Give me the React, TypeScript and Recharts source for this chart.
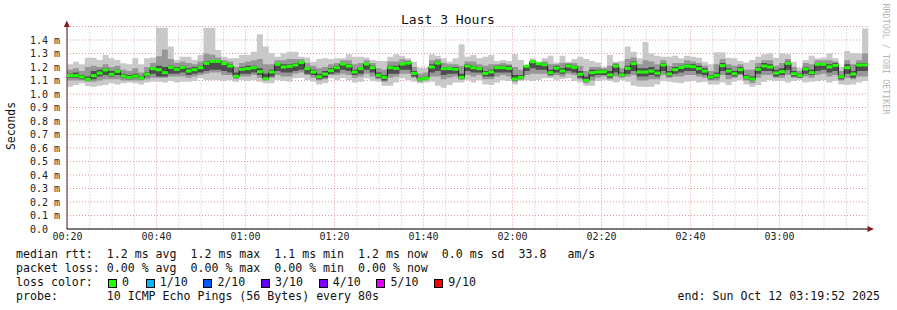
import { ComposedChart, Area, Line, XAxis, YAxis, CartesianGrid } from 'recharts';

// sampling: 10 pings every 80 s, window 00:19:52 .. 03:19:52 (minutes after midnight)
const START_MIN = 19 + 52 / 60;
const STEP_MIN = 80 / 60;
const END_MIN = START_MIN + 180;

const xTicks = [20, 40, 60, 80, 100, 120, 140, 160, 180];
const minorTicks = [25, 30, 35, 45, 50, 55, 65, 70, 75, 85, 90, 95, 105, 110, 115, 125, 130, 135, 145, 150, 155, 165, 170, 175, 185, 190, 195];
const yTicks = [0, 0.1, 0.2, 0.3, 0.4, 0.5, 0.6, 0.7, 0.8, 0.9, 1.0, 1.1, 1.2, 1.3, 1.4];

// values in ms
const medianRtt = [
  1.136, 1.136, 1.126, 1.109, 1.136, 1.155, 1.178, 1.146, 1.168, 1.133,
  1.123, 1.133, 1.118, 1.146, 1.188, 1.180, 1.158, 1.197, 1.183, 1.197,
  1.170, 1.180, 1.195, 1.227, 1.242, 1.242, 1.225, 1.207, 1.131, 1.183,
  1.188, 1.195, 1.165, 1.113, 1.163, 1.220, 1.200, 1.205, 1.215, 1.234,
  1.188, 1.163, 1.128, 1.148, 1.173, 1.195, 1.222, 1.207, 1.163, 1.188,
  1.222, 1.195, 1.138, 1.123, 1.195, 1.190, 1.222, 1.229, 1.153, 1.109,
  1.118, 1.200, 1.229, 1.188, 1.188, 1.183, 1.123, 1.207, 1.195, 1.188,
  1.153, 1.163, 1.195, 1.195, 1.190, 1.111, 1.123, 1.205, 1.239, 1.225,
  1.217, 1.158, 1.192, 1.170, 1.207, 1.197, 1.146, 1.101, 1.158, 1.163,
  1.165, 1.141, 1.207, 1.141, 1.190, 1.225, 1.163, 1.163, 1.170, 1.155,
  1.215, 1.148, 1.180, 1.197, 1.207, 1.202, 1.188, 1.170, 1.126, 1.138,
  1.210, 1.170, 1.150, 1.180, 1.123, 1.111, 1.183, 1.207, 1.200, 1.155,
  1.165, 1.227, 1.150, 1.136, 1.185, 1.158, 1.220, 1.220, 1.200, 1.212,
  1.128, 1.195, 1.148, 1.215, 1.215,
];

const maxRtt = [
  1.220, 1.239, 1.220, 1.269, 1.269, 1.252, 1.289, 1.264, 1.252, 1.227,
  1.220, 1.264, 1.220, 1.264, 1.271, 1.491, 1.491, 1.351, 1.252, 1.276,
  1.276, 1.252, 1.289, 1.491, 1.491, 1.326, 1.276, 1.264, 1.264, 1.289,
  1.289, 1.313, 1.442, 1.351, 1.301, 1.276, 1.301, 1.313, 1.313, 1.276,
  1.271, 1.239, 1.259, 1.264, 1.259, 1.264, 1.264, 1.294, 1.276, 1.276,
  1.271, 1.252, 1.244, 1.244, 1.276, 1.294, 1.284, 1.264, 1.239, 1.195,
  1.195, 1.294, 1.284, 1.264, 1.239, 1.264, 1.368, 1.276, 1.289, 1.264,
  1.276, 1.289, 1.244, 1.252, 1.244, 1.294, 1.252, 1.215, 1.264, 1.239,
  1.264, 1.284, 1.234, 1.284, 1.239, 1.259, 1.276, 1.259, 1.244, 1.234,
  1.202, 1.289, 1.239, 1.244, 1.351, 1.313, 1.264, 1.385, 1.300, 1.284,
  1.276, 1.276, 1.284, 1.264, 1.284, 1.276, 1.269, 1.239, 1.220, 1.309,
  1.309, 1.269, 1.264, 1.244, 1.234, 1.252, 1.276, 1.294, 1.301, 1.269,
  1.301, 1.294, 1.239, 1.195, 1.252, 1.284, 1.264, 1.271, 1.301, 1.264,
  1.202, 1.318, 1.301, 1.301, 1.486,
];

const minRtt = [
  1.054, 1.067, 1.079, 1.059, 1.054, 1.062, 1.067, 1.079, 1.071, 1.079,
  1.086, 1.079, 1.071, 1.086, 1.091, 1.091, 1.086, 1.096, 1.086, 1.091,
  1.091, 1.096, 1.116, 1.104, 1.104, 1.104, 1.096, 1.104, 1.091, 1.104,
  1.096, 1.104, 1.091, 1.079, 1.079, 1.104, 1.096, 1.091, 1.116, 1.121,
  1.104, 1.091, 1.071, 1.079, 1.116, 1.104, 1.116, 1.104, 1.086, 1.091,
  1.116, 1.096, 1.091, 1.062, 1.062, 1.086, 1.116, 1.104, 1.091, 1.079,
  1.086, 1.091, 1.062, 1.047, 1.067, 1.086, 1.086, 1.104, 1.086, 1.104,
  1.071, 1.067, 1.086, 1.104, 1.096, 1.071, 1.096, 1.104, 1.096, 1.104,
  1.116, 1.116, 1.104, 1.111, 1.116, 1.096, 1.086, 1.062, 1.062, 1.096,
  1.104, 1.096, 1.086, 1.104, 1.091, 1.062, 1.054, 1.054, 1.054, 1.071,
  1.096, 1.091, 1.086, 1.079, 1.091, 1.096, 1.086, 1.091, 1.071, 1.071,
  1.086, 1.067, 1.091, 1.104, 1.071, 1.054, 1.067, 1.091, 1.104, 1.096,
  1.096, 1.086, 1.096, 1.104, 1.086, 1.091, 1.096, 1.104, 1.086, 1.096,
  1.071, 1.067, 1.071, 1.086, 1.096,
];

const midHi = [
  1.18, 1.19, 1.17, 1.20, 1.21, 1.20, 1.22, 1.20, 1.21, 1.18,
  1.17, 1.19, 1.16, 1.20, 1.23, 1.28, 1.33, 1.26, 1.23, 1.24,
  1.23, 1.22, 1.24, 1.30, 1.29, 1.27, 1.25, 1.24, 1.20, 1.23,
  1.24, 1.25, 1.26, 1.22, 1.22, 1.25, 1.25, 1.26, 1.26, 1.26,
  1.23, 1.21, 1.19, 1.20, 1.22, 1.23, 1.25, 1.25, 1.22, 1.23,
  1.25, 1.23, 1.19, 1.18, 1.24, 1.24, 1.26, 1.25, 1.20, 1.15,
  1.16, 1.25, 1.26, 1.23, 1.22, 1.22, 1.21, 1.24, 1.24, 1.22,
  1.21, 1.22, 1.22, 1.23, 1.22, 1.20, 1.18, 1.21, 1.25, 1.23,
  1.24, 1.22, 1.22, 1.23, 1.23, 1.23, 1.21, 1.17, 1.20, 1.20,
  1.19, 1.21, 1.23, 1.19, 1.26, 1.27, 1.22, 1.25, 1.24, 1.22,
  1.25, 1.21, 1.23, 1.23, 1.25, 1.24, 1.23, 1.21, 1.17, 1.22,
  1.26, 1.22, 1.21, 1.22, 1.18, 1.18, 1.23, 1.25, 1.25, 1.21,
  1.23, 1.26, 1.20, 1.17, 1.23, 1.22, 1.25, 1.25, 1.25, 1.24,
  1.17, 1.25, 1.22, 1.25, 1.30,
];

const midLo = [
  1.10, 1.10, 1.10, 1.09, 1.09, 1.10, 1.11, 1.11, 1.11, 1.10,
  1.10, 1.10, 1.10, 1.11, 1.12, 1.12, 1.12, 1.13, 1.13, 1.13,
  1.12, 1.13, 1.14, 1.15, 1.16, 1.16, 1.14, 1.14, 1.11, 1.13,
  1.13, 1.14, 1.12, 1.10, 1.12, 1.14, 1.13, 1.13, 1.15, 1.16,
  1.14, 1.12, 1.10, 1.11, 1.14, 1.14, 1.15, 1.14, 1.12, 1.13,
  1.15, 1.13, 1.11, 1.09, 1.12, 1.13, 1.15, 1.15, 1.12, 1.09,
  1.10, 1.13, 1.13, 1.11, 1.12, 1.13, 1.11, 1.14, 1.13, 1.14,
  1.11, 1.11, 1.13, 1.14, 1.13, 1.09, 1.11, 1.14, 1.15, 1.15,
  1.15, 1.13, 1.14, 1.13, 1.15, 1.14, 1.11, 1.08, 1.10, 1.12,
  1.13, 1.11, 1.13, 1.12, 1.13, 1.14, 1.10, 1.10, 1.11, 1.11,
  1.14, 1.12, 1.13, 1.13, 1.14, 1.14, 1.13, 1.12, 1.10, 1.10,
  1.14, 1.11, 1.12, 1.14, 1.10, 1.08, 1.12, 1.14, 1.14, 1.12,
  1.12, 1.14, 1.12, 1.12, 1.13, 1.12, 1.14, 1.15, 1.13, 1.14,
  1.10, 1.12, 1.11, 1.13, 1.13,
];

const innerHi = [
  1.15, 1.16, 1.14, 1.13, 1.17, 1.18, 1.19, 1.17, 1.18, 1.15,
  1.14, 1.15, 1.13, 1.16, 1.20, 1.21, 1.20, 1.21, 1.20, 1.21,
  1.19, 1.20, 1.21, 1.24, 1.25, 1.25, 1.23, 1.22, 1.16, 1.20,
  1.21, 1.21, 1.19, 1.15, 1.18, 1.23, 1.22, 1.22, 1.23, 1.24,
  1.20, 1.18, 1.15, 1.17, 1.19, 1.21, 1.23, 1.22, 1.18, 1.20,
  1.23, 1.21, 1.16, 1.14, 1.21, 1.21, 1.23, 1.24, 1.17, 1.12,
  1.13, 1.22, 1.24, 1.20, 1.20, 1.20, 1.15, 1.22, 1.21, 1.20,
  1.17, 1.18, 1.21, 1.21, 1.21, 1.14, 1.14, 1.21, 1.24, 1.23,
  1.23, 1.18, 1.21, 1.19, 1.22, 1.21, 1.17, 1.13, 1.18, 1.18,
  1.18, 1.17, 1.22, 1.16, 1.21, 1.24, 1.19, 1.19, 1.20, 1.18,
  1.23, 1.17, 1.20, 1.21, 1.22, 1.22, 1.21, 1.19, 1.14, 1.16,
  1.23, 1.19, 1.17, 1.20, 1.14, 1.13, 1.20, 1.23, 1.22, 1.18,
  1.19, 1.24, 1.17, 1.15, 1.20, 1.18, 1.23, 1.23, 1.22, 1.23,
  1.14, 1.22, 1.17, 1.23, 1.23,
];

const innerLo = [
  1.12, 1.12, 1.11, 1.10, 1.11, 1.13, 1.14, 1.13, 1.14, 1.12,
  1.11, 1.12, 1.11, 1.13, 1.15, 1.13, 1.13, 1.15, 1.15, 1.16,
  1.14, 1.15, 1.16, 1.17, 1.18, 1.18, 1.17, 1.16, 1.12, 1.15,
  1.15, 1.16, 1.14, 1.11, 1.13, 1.17, 1.16, 1.16, 1.17, 1.18,
  1.15, 1.14, 1.11, 1.12, 1.15, 1.16, 1.18, 1.17, 1.14, 1.15,
  1.18, 1.16, 1.12, 1.10, 1.15, 1.15, 1.18, 1.18, 1.13, 1.10,
  1.11, 1.16, 1.17, 1.14, 1.15, 1.15, 1.11, 1.17, 1.16, 1.16,
  1.13, 1.13, 1.16, 1.16, 1.16, 1.10, 1.11, 1.17, 1.19, 1.18,
  1.18, 1.14, 1.16, 1.15, 1.17, 1.16, 1.12, 1.09, 1.13, 1.14,
  1.14, 1.12, 1.16, 1.13, 1.15, 1.17, 1.13, 1.13, 1.14, 1.13,
  1.17, 1.13, 1.15, 1.16, 1.17, 1.17, 1.15, 1.14, 1.11, 1.12,
  1.17, 1.14, 1.13, 1.15, 1.11, 1.10, 1.15, 1.17, 1.17, 1.13,
  1.14, 1.18, 1.13, 1.12, 1.15, 1.14, 1.17, 1.18, 1.16, 1.17,
  1.11, 1.15, 1.12, 1.17, 1.17,
];

const lossColors = [
  { label: '0', color: '#20ff00' },
  { label: '1/10', color: '#00b8ff' },
  { label: '2/10', color: '#0059ff' },
  { label: '3/10', color: '#5e00ff' },
  { label: '4/10', color: '#7e00ff' },
  { label: '5/10', color: '#dd00ff' },
  { label: '9/10', color: '#ff0000' },
];

const W = 897;
const H = 310;
const PLOT_LEFT = 67;
const PLOT_RIGHT = 868;
const PLOT_TOP = 26.5;
const PLOT_BOTTOM = 229;
const SAMPLE_W = (PLOT_RIGHT - PLOT_LEFT) / medianRtt.length;
const MONO = "'DejaVu Sans Mono', monospace";

const rows = medianRtt.map((m, i) => ({
  t: START_MIN + i * STEP_MIN,
  outer: [minRtt[i], maxRtt[i]],
  mid: [midLo[i], midHi[i]],
  inner: [innerLo[i], innerHi[i]],
  median: m,
}));
rows.push({ ...rows[rows.length - 1], t: END_MIN });

const hhmm = (m: number) => {
  const h = Math.floor(m / 60);
  const mm = Math.round(m % 60);
  return `${String(h).padStart(2, '0')}:${String(mm).padStart(2, '0')}`;
};

// rrdtool pads the unit-less zero label so it lines up with the others
const yLabel = (v: number) => (v === 0 ? '0.0\u00a0\u00a0' : `${v.toFixed(1)} m`);

const MedianTick = (props: any) => {
  const { cx, cy, index } = props;
  if (cx == null || cy == null || index >= medianRtt.length) return <g key={`m${index}`} />;
  return <rect key={`m${index}`} x={cx} y={cy - 1.5} width={SAMPLE_W} height={3} fill="#20ff00" />;
};

const textRow: React.CSSProperties = {
  position: 'absolute',
  left: 16,
  fontFamily: MONO,
  fontSize: 11.6,
  lineHeight: '14px',
  whiteSpace: 'pre',
  color: '#111',
};

export default function App() {
  return (
    <div style={{ position: 'absolute', left: 0, top: 0, width: W, height: H, background: '#fff', overflow: 'hidden' }}>
      <ComposedChart
        width={W}
        height={H}
        data={rows}
        margin={{ top: PLOT_TOP, right: W - PLOT_RIGHT, bottom: H - PLOT_BOTTOM - 20, left: 0 }}
      >
        <CartesianGrid
          horizontal={false}
          verticalValues={minorTicks}
          stroke="#c4c4c4"
          strokeDasharray="1 2"
        />
        <CartesianGrid stroke="#e09a9a" strokeDasharray="1 2" />
        <XAxis
          dataKey="t"
          type="number"
          scale="linear"
          domain={[START_MIN, END_MIN]}
          ticks={xTicks}
          interval={0}
          allowDataOverflow
          height={20}
          tickFormatter={hhmm}
          tickLine={false}
          tickSize={4}
          tickMargin={0}
          axisLine={{ stroke: '#000' }}
          tick={{ fontSize: 10, fontFamily: MONO, fill: '#222' }}
        />
        <YAxis
          type="number"
          domain={[0, 1.5]}
          ticks={yTicks}
          interval={0}
          allowDataOverflow
          width={PLOT_LEFT}
          tickFormatter={yLabel}
          tickLine={false}
          tickSize={5}
          tickMargin={2}
          axisLine={{ stroke: '#5a2a2a' }}
          tick={{ fontSize: 10, fontFamily: MONO, fill: '#222' }}
        />
        <Area type="stepAfter" dataKey="outer" stroke="none" fill="#c9c9c9" fillOpacity={1} isAnimationActive={false} />
        <Area type="stepAfter" dataKey="mid" stroke="none" fill="#979797" fillOpacity={1} isAnimationActive={false} />
        <Area type="stepAfter" dataKey="inner" stroke="none" fill="#4e4e4e" fillOpacity={1} isAnimationActive={false} />
        <Line
          type="stepAfter"
          dataKey="median"
          stroke="#1c1c1c"
          strokeWidth={1}
          dot={(p: any) => <MedianTick {...p} />}
          activeDot={false}
          isAnimationActive={false}
        />
      </ComposedChart>

      <svg width={W} height={H} style={{ position: 'absolute', left: 0, top: 0, pointerEvents: 'none' }}>
        <polygon points="66.8,20.5 63.8,27 69.8,27" fill="#8b1a1a" />
        <polygon points="874,229 867.5,226 867.5,232" fill="#8b1a1a" />
        <text x={448} y={19} textAnchor="middle" dominantBaseline="central" fontFamily={MONO} fontSize={13} fill="#111">
          Last 3 Hours
        </text>
        <text
          transform="translate(11,126) rotate(-90)"
          textAnchor="middle"
          dominantBaseline="central"
          fontFamily={MONO}
          fontSize={11.4}
          fill="#111"
        >
          Seconds
        </text>
        <text
          transform="translate(886,59) rotate(90)"
          textAnchor="middle"
          dominantBaseline="central"
          fontFamily={MONO}
          fontSize={8.4}
          fill="#b4b4b4"
        >
          RRDTOOL / TOBI OETIKER
        </text>
      </svg>

      <div style={{ ...textRow, top: 247 }}>
        {'median rtt:  1.2 ms avg  1.2 ms max  1.1 ms min  1.2 ms now  0.0 ms sd  33.8   am/s'}
      </div>
      <div style={{ ...textRow, top: 261 }}>
        {'packet loss: 0.00 % avg  0.00 % max  0.00 % min  0.00 % now'}
      </div>
      <div style={{ ...textRow, top: 275, display: 'flex' }}>
        <span style={{ width: 92 }}>{'loss color:'}</span>
        {lossColors.map((c, i) => (
          <span key={c.label} style={{ width: i === 0 ? 37.7 : 57.7, display: 'inline-flex', alignItems: 'center' }}>
            <span
              style={{
                display: 'inline-block',
                width: 7,
                height: 7,
                border: '1px solid #000',
                background: c.color,
                marginRight: 5,
                marginTop: 2,
              }}
            />
            {c.label}
          </span>
        ))}
      </div>
      <div style={{ ...textRow, top: 289 }}>
        {'probe:       10 ICMP Echo Pings (56 Bytes) every 80s'}
      </div>
      <div style={{ ...textRow, top: 289, left: undefined, right: 17 }}>
        {'end: Sun Oct 12 03:19:52 2025'}
      </div>
    </div>
  );
}
